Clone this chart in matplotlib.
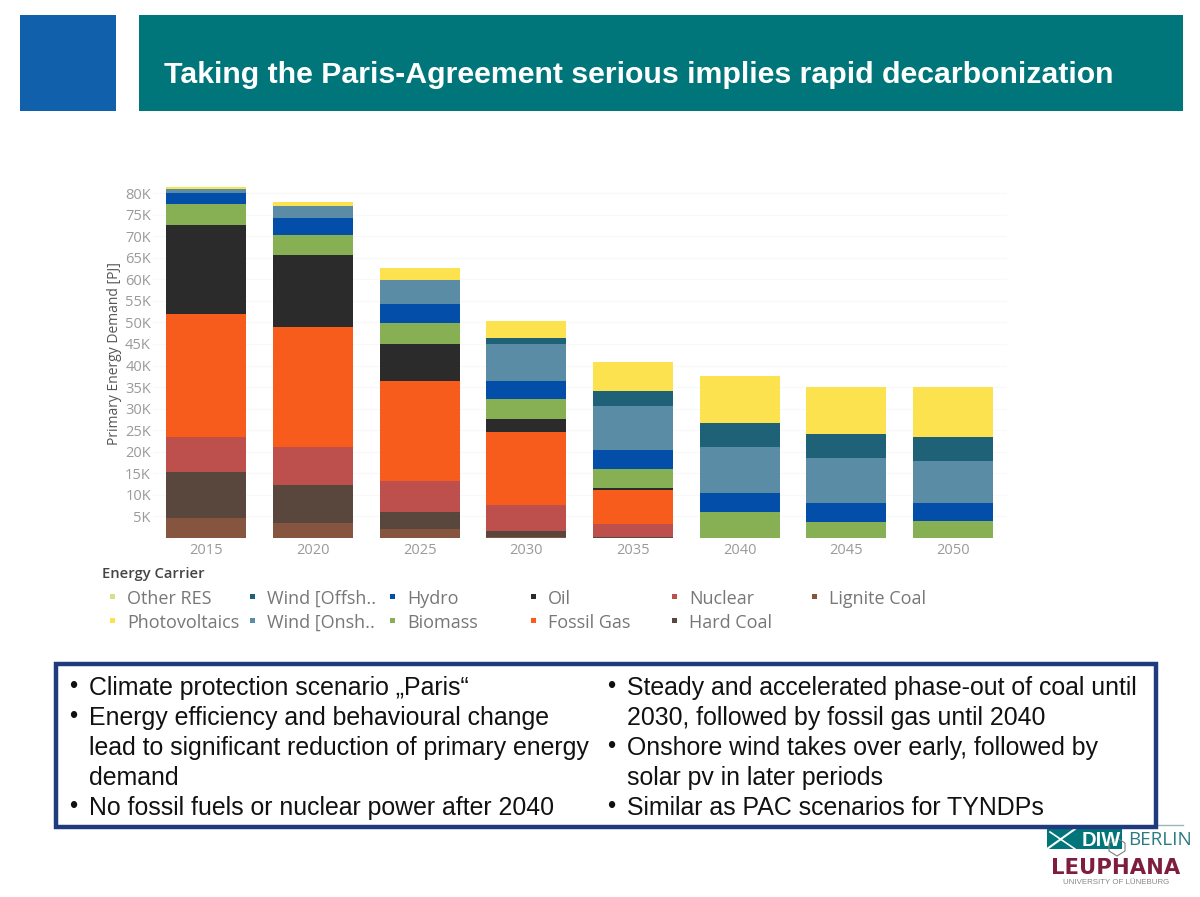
import matplotlib
matplotlib.use("Agg")
import matplotlib.pyplot as plt
from matplotlib.patches import Rectangle, Polygon
import numpy as np

years = ["2015", "2020", "2025", "2030", "2035", "2040", "2045", "2050"]
lignite = [4500, 3500, 2000, 300, 0, 0, 0, 0]
hard_coal = [10750, 8800, 3900, 1250, 300, 0, 0, 0]
nuclear = [8150, 8700, 7400, 5950, 2900, 0, 0, 0]
fossil_gas = [28600, 28000, 23200, 17000, 7900, 0, 0, 0]
oil = [20700, 16600, 8500, 3000, 400, 0, 0, 0]
biomass = [4800, 4800, 4900, 4700, 4500, 6100, 3700, 3900]
hydro = [2500, 3800, 4300, 4300, 4300, 4200, 4300, 4200]
wind_on = [1000, 2900, 5600, 8500, 10300, 10800, 10600, 9700]
wind_off = [0, 0, 0, 1400, 3500, 5600, 5600, 5600]
pv = [400, 800, 2900, 4000, 6700, 10800, 10900, 11700]
other = [0, 0, 0, 0, 0, 0, 0, 0]

stack = [
    (lignite, "#85553F"), (hard_coal, "#59463D"), (nuclear, "#BD4F4C"),
    (fossil_gas, "#F75C1C"), (oil, "#2B2B2B"), (biomass, "#87AF53"),
    (hydro, "#034EA8"), (wind_on, "#5A8CA5"), (wind_off, "#1F6177"),
    (pv, "#FDE24F"), (other, "#D5E08A"),
]
legend_rows = [
    [("Other RES", "#D5E08A"), ("Wind [Offsh..", "#1F6177"), ("Hydro", "#034EA8"),
     ("Oil", "#2B2B2B"), ("Nuclear", "#BD4F4C"), ("Lignite Coal", "#85553F")],
    [("Photovoltaics", "#FDE24F"), ("Wind [Onsh..", "#5A8CA5"), ("Biomass", "#87AF53"),
     ("Fossil Gas", "#F75C1C"), ("Hard Coal", "#59463D")],
]
legend_x = [110, 250, 390, 531, 672, 812]
legend_y = [597, 621]

title = "Taking the Paris-Agreement serious implies rapid decarbonization"
left_notes = [(687, True, "Climate protection scenario „Paris“"),
              (717, True, "Energy efficiency and behavioural change"),
              (747, False, "lead to significant reduction of primary energy"),
              (777, False, "demand"),
              (807, True, "No fossil fuels or nuclear power after 2040")]
right_notes = [(687, True, "Steady and accelerated phase-out of coal until"),
               (717, False, "2030, followed by fossil gas until 2040"),
               (747, True, "Onshore wind takes over early, followed by"),
               (777, False, "solar pv in later periods"),
               (807, True, "Similar as PAC scenarios for TYNDPs")]

W, H = 1200, 897
fig = plt.figure(figsize=(W / 100, H / 100), dpi=100, facecolor="white")

bg = fig.add_axes([0, 0, 1, 1])
bg.set_xlim(0, W)
bg.set_ylim(H, 0)
bg.axis("off")

# Header
bg.add_patch(Rectangle((20, 15), 96, 96, color="#1160AC", lw=0))
bg.add_patch(Rectangle((139, 15), 1044, 96, color="#00767A", lw=0))
bg.text(164, 75, title, color="white", fontsize=21.8, fontweight="bold",
        family="Liberation Sans", va="center", ha="left")

# Chart
ax_left, ax_right, ax_top, ax_bot = 152.9, 1006.5, 170, 537.8
ax = fig.add_axes([ax_left / W, 1 - ax_bot / H, (ax_right - ax_left) / W, (ax_bot - ax_top) / H])
ax.set_facecolor("none")
ax.set_xlim(-0.5, 7.5)
ax.set_ylim(0, (ax_bot - ax_top) / 4.307 * 1000)
x = np.arange(len(years))
bottom = np.zeros(len(years))
for vals, col in stack:
    ax.bar(x, vals, bottom=bottom, width=0.75, color=col, lw=0, zorder=3)
    bottom += np.array(vals)
yt = np.arange(5000, 85000, 5000)
ax.set_yticks(yt)
ax.set_yticklabels([f"{v // 1000}K" for v in yt])
ax.set_xticks(x)
ax.set_xticklabels(years)
ax.tick_params(length=0, labelsize=10.5, labelcolor="#9A9A9A", pad=4)
ax.tick_params(axis="y", pad=1.5)
for lab in ax.get_xticklabels() + ax.get_yticklabels():
    lab.set_family("Open Sans")
ax.grid(axis="y", color="#F8F8F8", lw=0.8, zorder=0)
for s in ax.spines.values():
    s.set_visible(False)
bg.text(115, 353.5, "Primary Energy Demand [PJ]", rotation=90, color="#555555", fontsize=10,
        family="Open Sans", ha="center", va="center")

# Legend
bg.text(102, 574, "Energy Carrier", color="#444444", fontsize=10.6, family="Open Sans",
        fontweight="semibold", va="center")
for row, yy in zip(legend_rows, legend_y):
    for (name, col), xx in zip(row, legend_x):
        bg.add_patch(Rectangle((xx, yy - 2.5), 5, 5, color=col, lw=0))
        bg.text(xx + 17, yy + 1.5, name, color="#777777", fontsize=13, family="Open Sans", va="center")

# Notes box
bg.add_patch(Rectangle((56, 664), 1100, 163, facecolor="white", edgecolor="#1F3A7D", lw=3.2, zorder=4))
for notes, xb, xt in ((left_notes, 69, 89), (right_notes, 607, 627)):
    for yy, bullet, txt in notes:
        if bullet:
            bg.text(xb, yy + 0.5, "•", fontsize=17, family="Liberation Sans", va="center", zorder=5, color="#111111")
        bg.text(xt, yy + 1, txt, fontsize=17.9, family="Liberation Sans", va="center", zorder=5, color="#111111")

# Logos
bg.plot([1122, 1183], [825, 825], color="#9DB5B8", lw=1)
bg.add_patch(Polygon([(1047, 829), (1122, 829), (1122, 849), (1047, 849)], color="#00767A", lw=0))
bg.plot([1047, 1075], [849, 829], color="white", lw=1.5)
bg.plot([1050, 1075], [832, 849], color="white", lw=1.2)
bg.text(1082, 840, "DIW", color="white", fontsize=14.5, fontweight="bold", family="Liberation Sans", va="center")
bg.text(1128, 840, "BERLIN", color="#2B7B80", fontsize=13.6, family="Open Sans", va="center")
bg.add_patch(Polygon([(1117, 838), (1125, 843), (1125, 851), (1117, 856), (1109, 851), (1109, 843)],
                     facecolor="none", edgecolor="#808080", lw=0.8))
bg.text(1116, 868, "LEUPHANA", color="#7F1D3E", fontsize=15.2, fontweight="bold", family="DejaVu Sans",
        va="center", ha="center")
bg.text(1116.5, 882, "UNIVERSITY OF LÜNEBURG", color="#888888", fontsize=5.7, family="Liberation Sans",
        va="center", ha="center")

fig.savefig("out.png", dpi=100, facecolor="white")
